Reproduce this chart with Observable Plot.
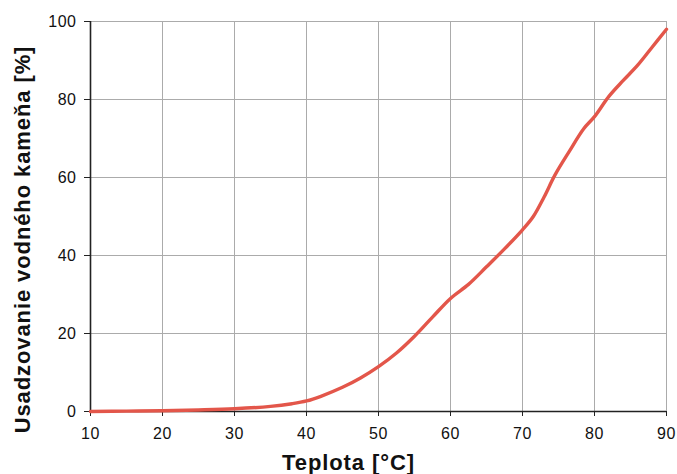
<!DOCTYPE html>
<html>
<head>
<meta charset="utf-8">
<script src="https://cdn.jsdelivr.net/npm/d3@7"></script>
<script src="https://cdn.jsdelivr.net/npm/@observablehq/plot@0.6"></script>
<style>
  html, body { margin: 0; padding: 0; background: #fff; }
  #chart svg { display: block; }
  #chart g[aria-label="x-axis tick label"], #chart g[aria-label="y-axis tick label"] { font-size: 16px; }
</style>
</head>
<body>
<div id="chart"></div>
<script>
const temps  = [10, 15, 20, 25, 30, 35, 38, 40, 42, 45, 47.5, 50, 52.5, 55, 57.5, 60, 62.5, 65, 67.5, 70, 71.5, 73, 74.5, 76.5, 78.5, 80, 82, 84, 86, 88, 90];
const values = [0, 0.1, 0.2, 0.4, 0.7, 1.3, 2.0, 2.7, 3.9, 6.2, 8.6, 11.5, 15.0, 19.3, 24.2, 29.0, 32.6, 37.1, 41.7, 46.6, 50.0, 55.0, 60.6, 66.7, 72.5, 75.6, 80.8, 84.9, 88.8, 93.4, 98.0];
const xTicks = [10, 20, 30, 40, 50, 60, 70, 80, 90];
const yTicks = [0, 20, 40, 60, 80, 100];
const xTitle = "Teplota [°C]";
const yTitle = "Usadzovanie vodného kameňa [%]";

const data = temps.map((t, i) => ({t, v: values[i]}));

const chart = Plot.plot({
  width: 677,
  height: 474,
  marginLeft: 90,
  marginRight: 11,
  marginTop: 21,
  marginBottom: 63,
  style: {fontFamily: "'Liberation Sans', Arial, sans-serif", fontSize: "16px", color: "#111", background: "#fff", letterSpacing: "0.5px"},
  x: {domain: [10, 90]},
  y: {domain: [0, 100]},
  marks: [
    Plot.ruleX(xTicks, {stroke: "#ababab", strokeWidth: 1, y1: 0, y2: 100}),
    Plot.ruleY(yTicks, {stroke: "#ababab", strokeWidth: 1, x1: 10, x2: 90}),
    Plot.axisX({ticks: xTicks, tickSize: 5, tickPadding: 11, label: null, stroke: "#222", fontSize: 16, tickFormat: d => String(d)}),
    Plot.axisY({ticks: yTicks, tickSize: 6, tickPadding: 8, label: null, stroke: "#222", fontSize: 16, tickFormat: d => String(d)}),
    Plot.ruleX([10], {stroke: "#222", strokeWidth: 1.6, y1: 0, y2: 100}),
    Plot.ruleY([0], {stroke: "#222", strokeWidth: 1.6, x1: 10, x2: 90}),
    Plot.line(data, {x: "t", y: "v", stroke: "#e3564a", strokeWidth: 3.4, curve: "catmull-rom"}),
    Plot.text([xTitle], {frameAnchor: "bottom", text: d => d, fontSize: 22, fontWeight: "bold", textAnchor: "middle", lineAnchor: "bottom", dx: -30, dy: 58, fill: "#111"}),
    Plot.text([yTitle], {frameAnchor: "left", text: d => d, fontSize: 22, fontWeight: "bold", textAnchor: "middle", lineAnchor: "bottom", rotate: -90, dx: -61, dy: 23, fill: "#111"})
  ]
});
chart.querySelectorAll("text").forEach(t => {
  if (t.textContent === xTitle || t.textContent === yTitle) t.setAttribute("letter-spacing", "0.9px");
});
document.getElementById("chart").appendChild(chart);
</script>
</body>
</html>
